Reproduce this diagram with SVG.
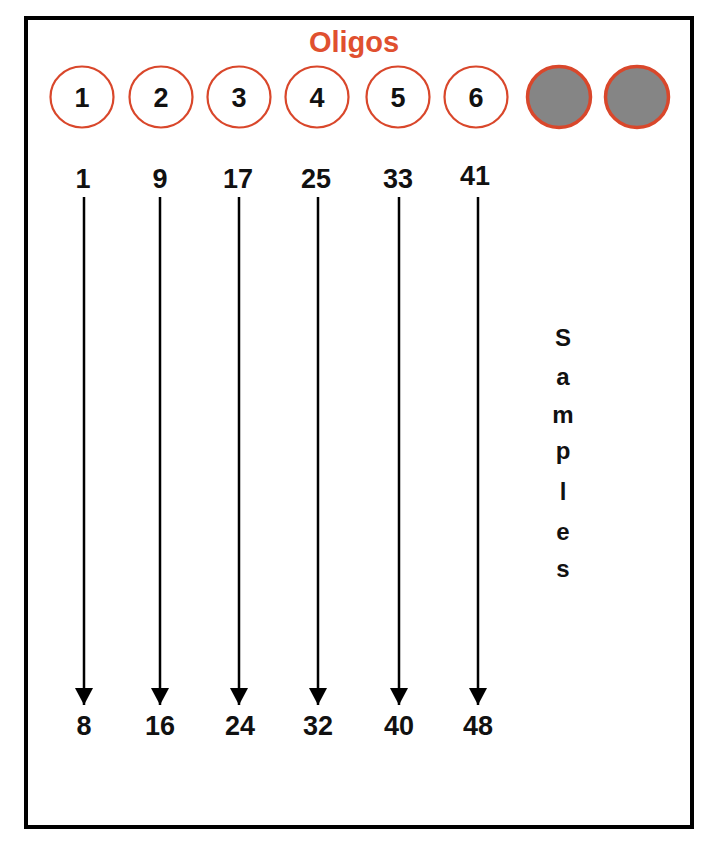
<svg xmlns="http://www.w3.org/2000/svg" width="709" height="852" viewBox="0 0 709 852">
<defs>
<style>
.frame{fill:none;stroke:#000;stroke-width:4}
.olig{fill:#fff;stroke:#d9472b;stroke-width:2.2}
.empty{fill:#858585;stroke:#d9472b;stroke-width:3.5}
.t{font-family:"Liberation Sans",Arial,sans-serif;font-weight:bold;fill:#111;text-anchor:middle}
.cn{font-size:27px}
.num{font-size:27px}
.title{font-family:"Liberation Sans",Arial,sans-serif;font-weight:bold;fill:#e0502f;font-size:29px;text-anchor:middle}
.smp{font-size:24px}
.arr{stroke:#000;stroke-width:2.5;fill:none;marker-end:url(#ah)}
</style>
<marker id="ah" markerWidth="17" markerHeight="18" refX="17" refY="9" orient="auto" markerUnits="userSpaceOnUse" viewBox="0 0 17 18">
<path d="M0,0 L17,9 L0,18 Z" fill="#000"/>
</marker>
</defs>
<rect x="0" y="0" width="709" height="852" fill="#fff"/>
<rect id="plate" class="frame" x="26" y="18" width="666" height="809"/>
<text id="oligos-title" class="title" x="354" y="52">Oligos</text>
<g id="oligo1"><ellipse class="olig" cx="82" cy="97" rx="31.5" ry="30.5"/><text class="t cn" x="82" y="107">1</text></g>
<g id="oligo2"><ellipse class="olig" cx="161" cy="97" rx="31.5" ry="30.5"/><text class="t cn" x="161" y="107">2</text></g>
<g id="oligo3"><ellipse class="olig" cx="239" cy="97" rx="31.5" ry="30.5"/><text class="t cn" x="239" y="107">3</text></g>
<g id="oligo4"><ellipse class="olig" cx="317" cy="97" rx="31.5" ry="30.5"/><text class="t cn" x="317" y="107">4</text></g>
<g id="oligo5"><ellipse class="olig" cx="398" cy="97" rx="31.5" ry="30.5"/><text class="t cn" x="398" y="107">5</text></g>
<g id="oligo6"><ellipse class="olig" cx="476" cy="97" rx="31.5" ry="30.5"/><text class="t cn" x="476" y="107">6</text></g>
<g id="empty7"><ellipse class="empty" cx="559" cy="97" rx="31.5" ry="30.5"/></g>
<g id="empty8"><ellipse class="empty" cx="637" cy="97" rx="31.5" ry="30.5"/></g>
<g id="start-labels">
<text class="t num" x="83" y="188">1</text>
<text class="t num" x="160" y="188">9</text>
<text class="t num" x="238" y="188">17</text>
<text class="t num" x="316" y="188">25</text>
<text class="t num" x="398" y="188">33</text>
<text class="t num" x="475" y="185">41</text>
</g>
<g id="connectors">
<line class="arr" x1="84" y1="197" x2="84" y2="705"/>
<line class="arr" x1="160" y1="197" x2="160" y2="705"/>
<line class="arr" x1="239" y1="197" x2="239" y2="705"/>
<line class="arr" x1="318" y1="197" x2="318" y2="705"/>
<line class="arr" x1="399" y1="197" x2="399" y2="705"/>
<line class="arr" x1="478" y1="197" x2="478" y2="705"/>
</g>
<g id="end-labels">
<text class="t num" x="84" y="735">8</text>
<text class="t num" x="160" y="735">16</text>
<text class="t num" x="240" y="735">24</text>
<text class="t num" x="318" y="735">32</text>
<text class="t num" x="399" y="735">40</text>
<text class="t num" x="478" y="735">48</text>
</g>
<g id="samples-label">
<text class="t smp" x="563" y="346">S</text>
<text class="t smp" x="563" y="385">a</text>
<text class="t smp" x="563" y="423">m</text>
<text class="t smp" x="563" y="459">p</text>
<text class="t smp" x="563" y="500">l</text>
<text class="t smp" x="563" y="540">e</text>
<text class="t smp" x="563" y="577">s</text>
</g>
</svg>
